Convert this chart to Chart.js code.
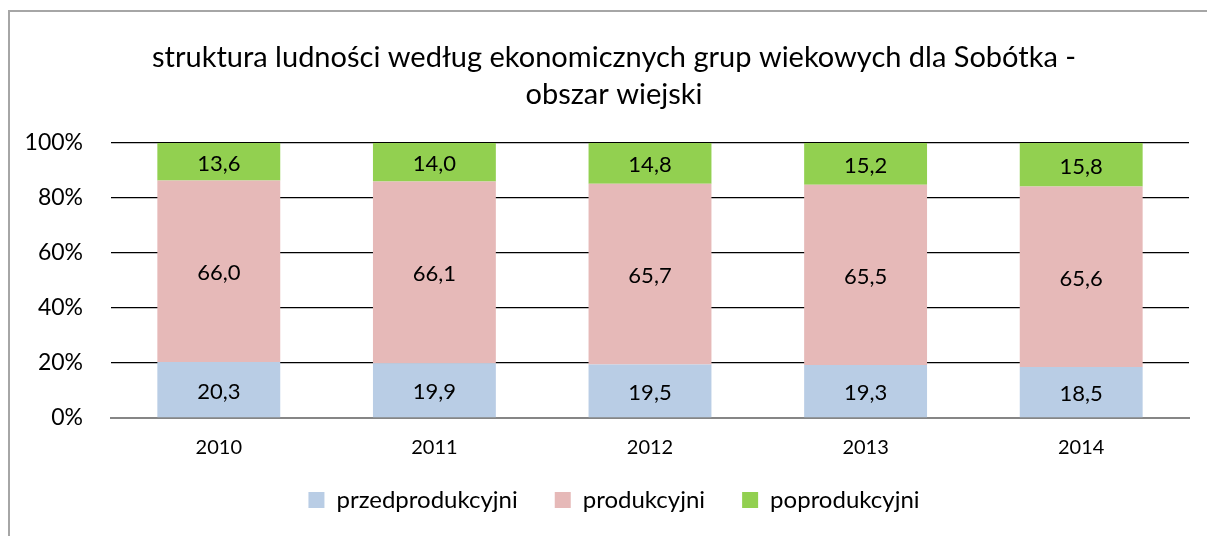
<!DOCTYPE html>
<html lang="pl">
<head>
<meta charset="utf-8">
<script src="https://cdn.jsdelivr.net/npm/chart.js@4.4.1/dist/chart.umd.min.js"></script>
<style>
    html, body { margin: 0; padding: 0; background: #ffffff; }
    #wrap { position: relative; width: 1207px; height: 536px; overflow: hidden; }
    #frame {
        position: absolute; left: 8px; top: 10px;
        width: 1220px; height: 560px;
        border: 2px solid #a6a6a6; box-sizing: border-box;
    }
    canvas { position: absolute; left: 0; top: 0; }
</style>
</head>
<body>
<div id="wrap">
    <div id="frame"></div>
    <canvas id="chart" width="1207" height="536"></canvas>
</div>
<script>
/* ==========================================================
   DATA
========================================================== */

const years = ["2010", "2011", "2012", "2013", "2014"];

const przedprodukcyjni = [20.3, 19.9, 19.5, 19.3, 18.5];
const produkcyjni = [66.0, 66.1, 65.7, 65.5, 65.6];
const poprodukcyjni = [13.6, 14.0, 14.8, 15.2, 15.8];

const yTicks = [0, 20, 40, 60, 80, 100];

const FONT = "Lato, 'Open Sans', sans-serif";

// 100% stacked: each year normalised to its own total
const totals = years.map((_, i) =>
    przedprodukcyjni[i] + produkcyjni[i] + poprodukcyjni[i]
);

const toShare = arr => arr.map((v, i) => v / totals[i] * 100);

// scale boxes are sized by hand, so let tick labels spill outside them
function fixedSize(prop, size) {
    return scale => {
        scale[prop] = size;
        scale._computeLabelArea = () => undefined;
    };
}

/* ==========================================================
   VALUE LABEL PLUGIN
========================================================== */

const valueLabels = {

    id: "valueLabels",

    afterDatasetsDraw(chart) {

        const { ctx } = chart;

        ctx.save();
        ctx.fillStyle = "#000000";
        ctx.font = "22px " + FONT;
        ctx.textAlign = "center";
        ctx.textBaseline = "middle";

        chart.data.datasets.forEach((ds, di) => {

            chart.getDatasetMeta(di).data.forEach((bar, i) => {

                const text = ds.raw[i].toFixed(1).replace(".", ",");
                const y = (bar.y + bar.base) / 2;

                ctx.fillText(text, bar.x, y + 2);

            });

        });

        ctx.restore();

    }

};

/* ==========================================================
   CHART
========================================================== */

new Chart(document.getElementById("chart"), {

    type: "bar",

    data: {

        labels: years,

        datasets: [
            {
                label: "przedprodukcyjni",
                raw: przedprodukcyjni,
                data: toShare(przedprodukcyjni),
                backgroundColor: "#b9cde5"
            },
            {
                label: "produkcyjni",
                raw: produkcyjni,
                data: toShare(produkcyjni),
                backgroundColor: "#e6b9b8"
            },
            {
                label: "poprodukcyjni",
                raw: poprodukcyjni,
                data: toShare(poprodukcyjni),
                backgroundColor: "#92d050"
            }
        ]

    },

    options: {

        responsive: false,
        animation: false,

        layout: {
            padding: { left: 39, right: 18, top: 0, bottom: 14 }
        },

        datasets: {
            bar: {
                categoryPercentage: 0.57,
                barPercentage: 1,
                borderWidth: 0
            }
        },

        scales: {

            x: {
                stacked: true,
                grid: { display: false, drawTicks: false },
                border: { display: true, color: "#868686", width: 2 },
                ticks: {
                    color: "#000000",
                    font: { family: FONT, size: 20 },
                    padding: 18
                },
                afterFit: fixedSize("height", 33)
            },

            y: {
                stacked: true,
                min: 0,
                max: 100,
                afterBuildTicks(scale) {
                    scale.ticks = yTicks.map(v => ({ value: v }));
                },
                grid: {
                    drawTicks: false,
                    lineWidth: 1.3,
                    color: ctx => ctx.tick && ctx.tick.value === 0 ? "#868686" : "#000000"
                },
                border: { display: false },
                ticks: {
                    color: "#000000",
                    font: { family: FONT, size: 23 },
                    padding: 28,
                    callback: v => v + "%"
                },
                afterFit: fixedSize("width", 72)
            }

        },

        plugins: {

            title: {
                display: true,
                text: [
                    "struktura ludności według ekonomicznych grup wiekowych dla Sobótka -",
                    "obszar wiejski"
                ],
                color: "#000000",
                font: { family: FONT, size: 29, weight: "normal", lineHeight: 1.276 },
                padding: { top: 39.5, bottom: 29.5 }
            },

            legend: {
                position: "bottom",
                labels: {
                    color: "#000000",
                    font: { family: FONT, size: 24 },
                    boxWidth: 16,
                    boxHeight: 16,
                    padding: 37
                }
            },

            tooltip: { enabled: false }

        }

    },

    plugins: [valueLabels]

});
</script>
</body>
</html>
